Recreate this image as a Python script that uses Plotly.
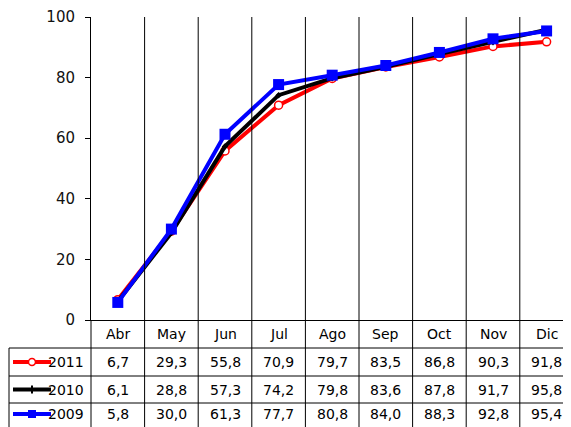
import plotly.graph_objects as go

months = ["Abr", "May", "Jun", "Jul", "Ago", "Sep", "Oct", "Nov", "Dic"]
s2011 = [6.7, 29.3, 55.8, 70.9, 79.7, 83.5, 86.8, 90.3, 91.8]
s2010 = [6.1, 28.8, 57.3, 74.2, 79.8, 83.6, 87.8, 91.7, 95.8]
s2009 = [5.8, 30.0, 61.3, 77.7, 80.8, 84.0, 88.3, 92.8, 95.4]
series_names = ["2011", "2010", "2009"]
y_ticks = [0, 20, 40, 60, 80, 100]

OFF = 8  # page body margin
W, H = 571 - OFF, 427 - OFF
L, T = 91 - OFF, 17 - OFF
PLOT_BOTTOM = 320 - OFF
B = H - PLOT_BOTTOM
R = 0
PW, PH = W - L - R, H - T - B
CAT_W = 53.6
X0 = -0.5
X1 = X0 + PW / CAT_W
FONT = "DejaVu Sans"


def fmt(v):
    return f"{v:.1f}".replace(".", ",")


def pxx(px):  # reference pixel -> paper
    return (px - OFF - L) / PW


def pxy(py):
    return (PLOT_BOTTOM - (py - OFF)) / PH


def catx(x):
    return (x - X0) / (X1 - X0)


xs = list(range(len(months)))
fig = go.Figure()
styles = [
    dict(color="#ff0000", marker=dict(symbol="circle", size=8, color="white", line=dict(color="#ff0000", width=1.5))),
    dict(color="#000000", marker=dict(symbol="diamond", size=5, color="black")),
    dict(color="#0000ff", marker=dict(symbol="square", size=11, color="#0000ff")),
]
for name, vals, st in zip(series_names, [s2011, s2010, s2009], styles):
    fig.add_trace(go.Scatter(x=xs, y=vals, mode="lines+markers", name=name,
                             line=dict(color=st["color"], width=4), marker=st["marker"],
                             cliponaxis=False, showlegend=False))

shapes = []
annotations = []
top_y = pxy(17)
bot_y = pxy(440)
row_edges = [320, 348, 376, 403, 430]
for i in range(len(months)):
    xb = catx(i + 0.5)
    shapes.append(dict(type="line", xref="paper", yref="paper", x0=xb, x1=xb, y0=top_y, y1=bot_y,
                       line=dict(color="black", width=1)))
shapes.append(dict(type="line", xref="paper", yref="paper", x0=0, x1=0, y0=pxy(320), y1=bot_y,
                   line=dict(color="black", width=1)))
shapes.append(dict(type="line", xref="paper", yref="paper", x0=pxx(9), x1=pxx(9), y0=pxy(348), y1=bot_y,
                   line=dict(color="black", width=1)))
for ry in row_edges[1:4]:
    shapes.append(dict(type="line", xref="paper", yref="paper", x0=pxx(9), x1=1, y0=pxy(ry), y1=pxy(ry),
                       line=dict(color="black", width=1)))

for i, m in enumerate(months):
    annotations.append(dict(x=catx(i), y=pxy(334), xref="paper", yref="paper", text=m, showarrow=False,
                            font=dict(family=FONT, size=14, color="black"), xanchor="center", yanchor="middle"))
for r, (name, vals, st) in enumerate(zip(series_names, [s2011, s2010, s2009], styles)):
    cy = (row_edges[r + 1] + row_edges[r + 2]) / 2
    if r == 2:
        cy = 414
    for i, v in enumerate(vals):
        annotations.append(dict(x=catx(i), y=pxy(cy), xref="paper", yref="paper", text=fmt(v), showarrow=False,
                                font=dict(family=FONT, size=14, color="black"), xanchor="center", yanchor="middle"))
    annotations.append(dict(x=pxx(86), y=pxy(cy), xref="paper", yref="paper", text=name, showarrow=False,
                            font=dict(family=FONT, size=14, color="black"), xanchor="right", yanchor="middle"))
    shapes.append(dict(type="line", xref="paper", yref="paper", x0=pxx(13), x1=pxx(51), y0=pxy(cy), y1=pxy(cy),
                       line=dict(color=st["color"], width=4)))
    mx = 32
    if r == 0:
        shapes.append(dict(type="circle", xref="paper", yref="paper", x0=pxx(mx - 3.5), x1=pxx(mx + 3.5),
                           y0=pxy(cy + 3.5), y1=pxy(cy - 3.5), fillcolor="white",
                           line=dict(color="#ff0000", width=1.5)))
    elif r == 1:
        shapes.append(dict(type="rect", xref="paper", yref="paper", x0=pxx(mx - 1), x1=pxx(mx + 1),
                           y0=pxy(cy + 4), y1=pxy(cy - 4), fillcolor="black", line=dict(width=0)))
    else:
        shapes.append(dict(type="rect", xref="paper", yref="paper", x0=pxx(mx - 4), x1=pxx(mx + 4),
                           y0=pxy(cy + 4), y1=pxy(cy - 4), fillcolor="#0000ff", line=dict(width=0)))

fig.update_layout(
    width=W, height=H, margin=dict(l=L, r=R, t=T, b=B, pad=0),
    paper_bgcolor="white", plot_bgcolor="white",
    shapes=shapes, annotations=annotations,
    xaxis=dict(range=[X0, X1], showticklabels=False, ticks="", showgrid=False, zeroline=False,
               showline=True, linecolor="black", linewidth=1, fixedrange=True),
    yaxis=dict(range=[0, 100], tickvals=y_ticks, ticks="outside", ticklen=5, tickcolor="black",
               ticklabelstandoff=7,
               showgrid=False, zeroline=False, showline=True, linecolor="black", linewidth=1,
               tickfont=dict(family=FONT, size=15, color="#111111"), fixedrange=True),
)
fig.write_html("out.html")
